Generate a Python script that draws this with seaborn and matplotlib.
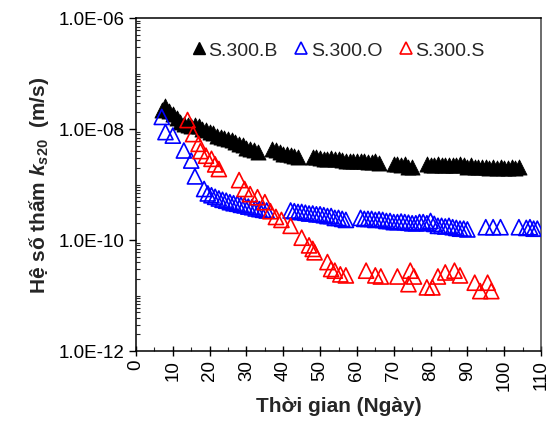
import numpy as np
import pandas as pd
import matplotlib
matplotlib.use("Agg")
import matplotlib.pyplot as plt
import seaborn as sns
from matplotlib.ticker import FixedLocator, LogLocator, FuncFormatter, MultipleLocator, NullFormatter
from matplotlib.lines import Line2D

# ---- data ----
b_days = [7, 8, 9, 10, 11, 12, 13, 14, 15, 16, 17, 18, 19, 20, 21, 22, 23, 24, 25, 26, 27, 28, 29, 30, 31, 32, 33,
          37, 38, 39, 40, 41, 42, 43, 44,
          48, 49, 50, 51, 52, 53, 54, 55, 56, 57, 58, 59, 60, 61, 62, 63, 64, 65, 66,
          70, 71, 72, 73, 74, 75,
          79, 80, 81, 82, 83, 84, 85, 86, 87, 88, 89, 90, 91, 92, 93, 94, 95, 96, 97, 98, 99, 100, 101, 102, 103, 104]
b_vals = [2.2e-8, 2.6e-8, 2.15e-8, 1.9e-8, 1.6e-8, 1.35e-8, 1.25e-8, 1.2e-8, 1.15e-8, 1.2e-8,
          1.15e-8, 1.0e-8, 9.4e-9, 8.8e-9, 8.4e-9, 7.6e-9, 7.2e-9, 7.0e-9, 6.6e-9, 6.3e-9,
          5.8e-9, 5.4e-9, 5.1e-9, 4.6e-9, 4.4e-9, 4.1e-9, 3.9e-9,
          4.4e-9, 4.1e-9, 3.8e-9, 3.6e-9, 3.6e-9, 3.4e-9, 3.3e-9, 3.1e-9,
          3.1e-9, 3.1e-9, 3.0e-9, 2.9e-9, 2.9e-9, 2.95e-9, 2.9e-9, 2.9e-9, 2.8e-9, 2.7e-9,
          2.7e-9, 2.7e-9, 2.7e-9, 2.7e-9, 2.6e-9, 2.55e-9, 2.5e-9, 2.7e-9, 2.4e-9,
          2.3e-9, 2.3e-9, 2.25e-9, 2.3e-9, 2.1e-9, 2.05e-9,
          2.3e-9, 2.25e-9, 2.2e-9, 2.3e-9, 2.25e-9, 2.2e-9, 2.2e-9, 2.25e-9, 2.25e-9, 2.3e-9,
          2.2e-9, 2.1e-9, 2.2e-9, 2.1e-9, 2.05e-9, 2.05e-9, 2.1e-9, 2.0e-9, 2.05e-9, 2.0e-9,
          2.05e-9, 2.0e-9, 2.0e-9, 2.05e-9, 2.0e-9, 2.05e-9]

o_days = [7, 8, 10, 13, 15, 16, 18.5, 19.5, 20.5, 21.5, 22.5, 23.5, 24.5, 25.5, 26.5, 27.5, 28.5, 29.5,
          30.5, 31.5, 32.5, 33.5, 34.5, 35.5,
          42, 43, 44, 45, 46, 47, 48, 49, 50, 51, 52, 53, 54, 55, 56, 57,
          61, 62, 63, 64, 65, 66, 67, 68, 69, 70, 71, 72, 73, 74, 75, 76, 77, 78, 79, 80,
          81, 82, 83, 84, 85, 86, 87, 88, 89, 90,
          95, 97, 99, 104, 106, 107, 108, 109]
o_vals = [1.65e-8, 8.8e-9, 7.6e-9, 4.1e-9, 2.7e-9, 1.4e-9, 8.3e-10, 6.9e-10, 6.4e-10, 6.0e-10,
          5.6e-10, 5.3e-10, 5.1e-10, 4.8e-10, 4.6e-10, 4.5e-10, 4.3e-10, 4.2e-10, 4.0e-10, 3.9e-10,
          3.7e-10, 3.6e-10, 3.5e-10, 3.4e-10,
          3.4e-10, 3.3e-10, 3.2e-10, 3.2e-10, 3.1e-10, 3.0e-10, 3.0e-10, 2.9e-10, 2.9e-10, 2.8e-10,
          2.7e-10, 2.7e-10, 2.5e-10, 2.5e-10, 2.4e-10, 2.3e-10,
          2.5e-10, 2.4e-10, 2.4e-10, 2.4e-10, 2.3e-10, 2.35e-10, 2.3e-10, 2.2e-10, 2.2e-10, 2.1e-10,
          2.1e-10, 2.15e-10, 2.1e-10, 2.05e-10, 2.0e-10, 2.0e-10, 2.1e-10, 2.1e-10, 2.0e-10, 2.2e-10,
          1.95e-10, 1.8e-10, 1.8e-10, 1.75e-10, 1.8e-10, 1.7e-10, 1.65e-10, 1.6e-10, 1.6e-10, 1.55e-10,
          1.7e-10, 1.7e-10, 1.7e-10, 1.7e-10, 1.65e-10, 1.7e-10, 1.6e-10, 1.6e-10]

s_days = [14, 15.5, 17, 17.5, 19, 20.5, 21.5, 22.5,
          28, 29.5, 31, 33, 35, 36.5, 38, 39.5,
          42, 45, 47, 48, 48.5, 52, 53, 54, 55.5, 57,
          62.5, 65, 66.5, 71, 74, 74.5, 75.5,
          79, 80.5, 82, 84, 86.5, 88,
          92, 93.5, 95.5, 96.5]
s_vals = [1.45e-8, 8.1e-9, 5.4e-9, 4.0e-9, 3.3e-9, 2.9e-9, 2.3e-9, 1.9e-9,
          1.2e-9, 8.3e-10, 6.7e-10, 5.9e-10, 4.8e-10, 3.3e-10, 2.6e-10, 2.3e-10,
          1.8e-10, 1.1e-10, 8.0e-11, 6.9e-11, 6.0e-11, 4.0e-11, 3.0e-11, 2.8e-11, 2.4e-11, 2.3e-11,
          2.8e-11, 2.3e-11, 2.2e-11, 2.2e-11, 1.6e-11, 2.8e-11, 2.2e-11,
          1.4e-11, 1.4e-11, 2.2e-11, 2.6e-11, 2.8e-11, 2.3e-11,
          1.7e-11, 1.2e-11, 1.7e-11, 1.2e-11]

series_names = ["S.300.B", "S.300.O", "S.300.S"]
y_major = [1e-12, 1e-10, 1e-8, 1e-6]
x_ticks = list(range(0, 111, 10))

# ---- style ----
sns.set_theme(style="white")
plt.rcParams["font.family"] = ["Liberation Sans", "DejaVu Sans"]
plt.rcParams["mathtext.fontset"] = "custom"
plt.rcParams["mathtext.it"] = "Liberation Sans:italic:bold"
plt.rcParams["mathtext.rm"] = "Liberation Sans:bold"
plt.rcParams["mathtext.bf"] = "Liberation Sans:bold"

fig = plt.figure(figsize=(5.49, 4.27), dpi=100)
ax = fig.add_axes([136 / 549, 1 - 352 / 427, 405 / 549, 333 / 427])

msize = 118
sns.scatterplot(x=b_days, y=b_vals, ax=ax, marker="^", s=msize, color="black",
                edgecolor="black", linewidth=0.6, zorder=3)
sns.scatterplot(x=o_days, y=o_vals, ax=ax, marker="^", s=msize, facecolor="none",
                edgecolor="#0000ff", linewidth=1.2, zorder=4)
sns.scatterplot(x=s_days, y=s_vals, ax=ax, marker="^", s=msize, facecolor="none",
                edgecolor="#ff0000", linewidth=1.2, zorder=5)

ax.set_yscale("log")
ax.set_ylim(1e-12, 1e-6)
ax.set_xlim(0, 110)

ax.yaxis.set_major_locator(FixedLocator(y_major))
ax.yaxis.set_minor_locator(LogLocator(base=10, subs=np.arange(1, 10), numticks=100))
ax.yaxis.set_major_formatter(FuncFormatter(lambda v, p: f"{v:.1E}"))
ax.yaxis.set_minor_formatter(NullFormatter())

ax.xaxis.set_major_locator(FixedLocator(x_ticks))
ax.xaxis.set_minor_locator(MultipleLocator(5))

ax.tick_params(axis="y", which="major", direction="out", length=5, width=1, colors="black",
               labelsize=13.5, pad=3, left=True)
ax.tick_params(axis="y", which="minor", direction="in", length=3, width=0.8, left=True)
ax.tick_params(axis="x", which="major", direction="inout", length=7, width=1, colors="black",
               labelsize=13.5, pad=2, labelrotation=90, bottom=True)
ax.tick_params(axis="x", which="minor", direction="in", length=3, width=0.8, bottom=True)

for sp in ax.spines.values():
    sp.set_color("black")
    sp.set_linewidth(1.1)
ax.spines["right"].set_color("#444444")

ax.set_xlabel("Thời gian (Ngày)", fontsize=15, fontweight="bold", labelpad=4)
ax.set_ylabel("Hệ số thấm $k_{\\mathit{s20}}$  (m/s)", fontsize=15, fontweight="bold", labelpad=6)

handles = [
    Line2D([], [], marker="^", ls="none", color="black", markersize=8),
    Line2D([], [], marker="^", ls="none", mfc="none", mec="#0000ff", mew=1.2, markersize=8),
    Line2D([], [], marker="^", ls="none", mfc="none", mec="#ff0000", mew=1.2, markersize=8),
]
ax.legend(handles, series_names, ncol=3, loc="upper left", bbox_to_anchor=(0.14, 0.93),
          frameon=False, handlelength=0.6, handletextpad=0.2, columnspacing=0.9,
          fontsize=14, borderaxespad=0, borderpad=0)

fig.savefig("out.png", dpi=100)
